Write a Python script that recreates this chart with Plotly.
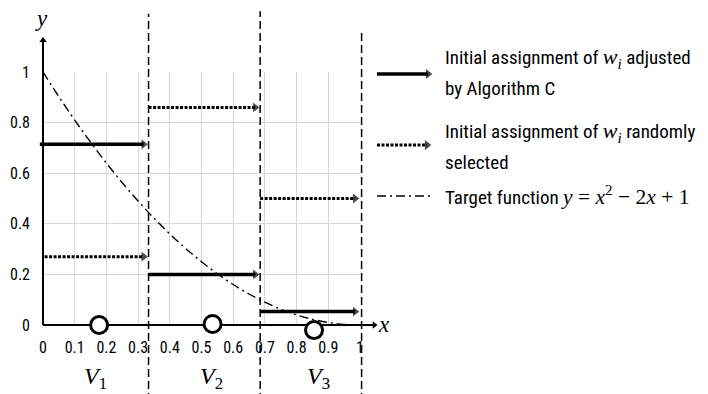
import plotly.graph_objects as go

W, H = 708, 394

# ---------------- data ----------------
X_TICKS = [0, 0.1, 0.2, 0.3, 0.4, 0.5, 0.6, 0.7, 0.8, 0.9, 1]
X_TICK_TEXT = ["0", "0.1", "0.2", "0.3", "0.4", "0.5", "0.6", "0.7", "0.8", "0.9", "1"]
Y_TICKS = [0, 0.2, 0.4, 0.6, 0.8, 1]
Y_TICK_TEXT = ["0", "0.2", "0.4", "0.6", "0.8", "1"]

# target function y = x^2 - 2x + 1
CURVE_X = [0, 0.05, 0.1, 0.15, 0.2, 0.25, 0.3, 0.35, 0.4, 0.45, 0.5,
           0.55, 0.6, 0.65, 0.7, 0.75, 0.8, 0.85, 0.9, 0.95, 1.0]
CURVE_Y = [1.0, 0.9025, 0.81, 0.7225, 0.64, 0.5625, 0.49, 0.4225, 0.36, 0.3025, 0.25,
           0.2025, 0.16, 0.1225, 0.09, 0.0625, 0.04, 0.0225, 0.01, 0.0025, 0.0]

# arrows: initial assignment adjusted by Algorithm C (solid)
SOLID_X0 = [-0.01, 0.333, 0.685]
SOLID_X1 = [0.333, 0.685, 1.0]
SOLID_Y = [0.714, 0.20, 0.053]

# arrows: initial assignment randomly selected (dotted)
DOTTED_X0 = [0.005, 0.333, 0.685]
DOTTED_X1 = [0.333, 0.685, 1.0]
DOTTED_Y = [0.27, 0.86, 0.50]

# region boundaries (dashed)
BOUNDARY_X = [0.333, 0.685, 1.005]
BOUNDARY_TOP = [1.23, 1.24, 1.17]
BOUNDARY_BOTTOM = -0.3

# circles on x axis
CIRCLE_X = [0.177, 0.535, 0.855]
CIRCLE_Y = [0.0, 0.004, -0.02]

REGION_LABELS = ["V", "V", "V"]
REGION_SUBS = ["1", "2", "3"]
REGION_X = [0.167, 0.533, 0.868]
REGION_Y = -0.21

LEGEND_SOLID = ["Initial assignment of {w} adjusted", "by Algorithm C"]
LEGEND_DOTTED = ["Initial assignment of {w} randomly", "selected"]
LEGEND_CURVE = "Target function {eq}"

X_AXIS_END = 1.057
Y_AXIS_END = 1.14

# ---------------- layout helpers ----------------
X0_PX, X1_PX = 43.0, 360.0      # pixel of x=0 and x=1
Y0_PX, Y1_PX = 325.0, 72.0      # pixel of y=0 and y=1
SX = X1_PX - X0_PX
SY = Y0_PX - Y1_PX
X_MIN, X_MAX = -X0_PX / SX, (W - X0_PX) / SX
Y_MIN, Y_MAX = -(H - Y0_PX) / SY, Y0_PX / SY


def dx(p):
    return (p - X0_PX) / SX


def dy(p):
    return (Y0_PX - p) / SY


def paper_x(p):
    return p / W


def paper_y(p):
    return 1 - p / H


TEXT_FONT = "Roboto Condensed, DejaVu Sans Condensed, sans-serif"
MATH_FONT = "Liberation Serif, DejaVu Serif, serif"


def m(s):
    return '<span style="font-family:%s"><i>%s</i></span>' % (MATH_FONT, s)


W_I = ('<span style="font-family:%s;font-size:22px"><i>w</i><sub><i>i</i></sub></span>'
       % MATH_FONT)
EQ = ('<span style="font-family:%s;font-size:21.5px"><i>y</i> = <i>x</i><sup>2</sup>'
      ' − 2<i>x</i> + 1</span>' % MATH_FONT)

SOLID_W = 3.5
DOT_W = 3
DOT_DASH = "3px,1.5px"
CURVE_DASH = "9px,4px,2px,4px"

HEAD_SIZE = 8.5                                   # triangle marker size (px)
HEAD_TIP = 1.155 * HEAD_SIZE / 2                  # tip distance from marker centre (px)
AX_HEAD_SIZE = 6.5
AX_HEAD_TIP = 1.155 * AX_HEAD_SIZE / 2

fig = go.Figure()

# target function on grid subplot
fig.add_trace(go.Scatter(x=CURVE_X, y=CURVE_Y, mode="lines", line_shape="spline",
                         line=dict(color="black", width=1.4, dash=CURVE_DASH),
                         xaxis="x", yaxis="y", showlegend=False, hoverinfo="skip"))

# boundaries
for bx, bt in zip(BOUNDARY_X, BOUNDARY_TOP):
    fig.add_trace(go.Scatter(x=[bx, bx], y=[BOUNDARY_BOTTOM, bt], mode="lines",
                             line=dict(color="black", width=1.5, dash="8px,4px"),
                             xaxis="x2", yaxis="y2", showlegend=False, hoverinfo="skip"))


def arrow(x0, x1, y, dotted):
    xe = x1 - HEAD_TIP / SX
    fig.add_trace(go.Scatter(
        x=[x0, xe], y=[y, y], mode="lines+markers",
        line=dict(color="black", width=DOT_W if dotted else SOLID_W,
                  dash=DOT_DASH if dotted else "solid"),
        marker=dict(symbol="triangle-right", size=[0, HEAD_SIZE],
                    color="black", line=dict(width=0)),
        xaxis="x2", yaxis="y2", showlegend=False, hoverinfo="skip", cliponaxis=False))


for a, b, y in zip(DOTTED_X0, DOTTED_X1, DOTTED_Y):
    arrow(a, b, y, True)
for a, b, y in zip(SOLID_X0, SOLID_X1, SOLID_Y):
    arrow(a, b, y, False)

# axis arrowheads
fig.add_trace(go.Scatter(x=[X_AXIS_END - AX_HEAD_TIP / SX], y=[0], mode="markers",
                         marker=dict(symbol="triangle-right", size=AX_HEAD_SIZE, color="black",
                                     line=dict(width=0)),
                         xaxis="x2", yaxis="y2", showlegend=False, hoverinfo="skip"))
fig.add_trace(go.Scatter(x=[0], y=[Y_AXIS_END - AX_HEAD_TIP / SY], mode="markers",
                         marker=dict(symbol="triangle-up", size=AX_HEAD_SIZE, color="black",
                                     line=dict(width=0)),
                         xaxis="x2", yaxis="y2", showlegend=False, hoverinfo="skip"))

# circles
fig.add_trace(go.Scatter(x=CIRCLE_X, y=CIRCLE_Y, mode="markers",
                         marker=dict(symbol="circle", size=17, color="white",
                                     line=dict(color="black", width=3)),
                         xaxis="x2", yaxis="y2", showlegend=False, hoverinfo="skip"))

# legend samples
arrow(dx(377), dx(433), dy(74), False)
arrow(dx(377), dx(432), dy(145), True)
fig.add_trace(go.Scatter(x=[dx(377), dx(430)], y=[dy(196), dy(196)], mode="lines",
                         line=dict(color="black", width=1.4, dash=CURVE_DASH),
                         xaxis="x2", yaxis="y2", showlegend=False, hoverinfo="skip"))

shapes = [
    dict(type="line", xref="x2", yref="y2", x0=0, x1=X_AXIS_END - AX_HEAD_TIP / SX, y0=0, y1=0,
         line=dict(color="black", width=2), layer="between"),
    dict(type="line", xref="x2", yref="y2", x0=0, x1=0, y0=0, y1=Y_AXIS_END - AX_HEAD_TIP / SY,
         line=dict(color="black", width=2), layer="between"),
]

annotations = [
    dict(xref="paper", yref="paper", x=paper_x(41), y=paper_y(18), text=m("y"),
         xanchor="center", yanchor="middle",
         showarrow=False, font=dict(size=23, color="black")),
    dict(xref="paper", yref="paper", x=paper_x(384), y=paper_y(324), text=m("x"),
         xanchor="center", yanchor="middle",
         showarrow=False, font=dict(size=23, color="black")),
]
for lab, sub, rx in zip(REGION_LABELS, REGION_SUBS, REGION_X):
    annotations.append(dict(
        xref="x2", yref="y2", x=rx, y=REGION_Y, xanchor="center", yanchor="middle",
        text='<span style="font-family:%s"><i>%s</i><sub>%s</sub></span>' % (MATH_FONT, lab, sub),
        showarrow=False, font=dict(size=24, color="black")))

LEG_X = paper_x(443)
leg_rows = [
    (LEGEND_SOLID[0].format(w=W_I), 58),
    (LEGEND_SOLID[1], 88),
    (LEGEND_DOTTED[0].format(w=W_I), 132),
    (LEGEND_DOTTED[1], 162),
    (LEGEND_CURVE.format(eq=EQ), 196),
]
for txt, yp in leg_rows:
    annotations.append(dict(xref="paper", yref="paper", x=LEG_X, y=paper_y(yp),
                            xanchor="left", yanchor="middle", text=txt, showarrow=False,
                            font=dict(family=TEXT_FONT, size=19, color="black")))

fig.update_layout(
    width=W, height=H, autosize=False,
    margin=dict(l=0, r=0, t=0, b=0, pad=0),
    paper_bgcolor="white", plot_bgcolor="rgba(0,0,0,0)",
    showlegend=False,
    xaxis=dict(domain=[X0_PX / W, X1_PX / W], range=[0, 1], tickvals=X_TICKS,
               ticktext=X_TICK_TEXT, showgrid=True, gridcolor="#d9d9d9", gridwidth=1,
               zeroline=False, showline=False, ticks="", ticklabelstandoff=11,
               automargin=False,
               tickfont=dict(family=TEXT_FONT, size=16, color="black"), anchor="y",
               fixedrange=True),
    yaxis=dict(domain=[1 - Y0_PX / H, 1 - Y1_PX / H], range=[0, 1], tickvals=Y_TICKS,
               ticktext=Y_TICK_TEXT, showgrid=True, gridcolor="#d9d9d9", gridwidth=1,
               zeroline=False, showline=False, ticks="", ticklabelstandoff=12,
               automargin=False,
               tickfont=dict(family=TEXT_FONT, size=16, color="black"), anchor="x",
               fixedrange=True),
    xaxis2=dict(domain=[0, 1], range=[X_MIN, X_MAX], visible=False, anchor="y2",
                automargin=False, fixedrange=True),
    yaxis2=dict(domain=[0, 1], range=[Y_MIN, Y_MAX], visible=False, anchor="x2",
                automargin=False, fixedrange=True),
    shapes=shapes,
    annotations=annotations,
)

fig.write_html("out.html", config={"displayModeBar": False},
               post_script="document.body.style.margin='0px';"
                           "document.body.style.overflow='hidden';")
